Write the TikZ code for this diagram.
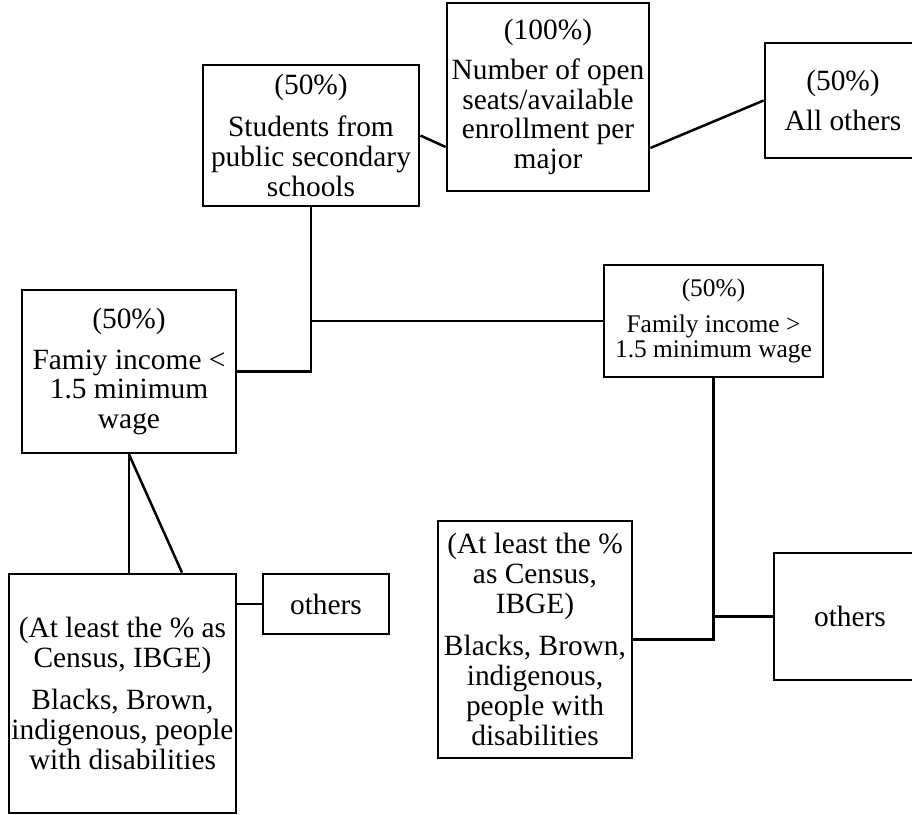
\documentclass[tikz,border=0pt]{standalone}
\usepackage{fontspec}
\setmainfont{Liberation Serif}
\usetikzlibrary{calc}

\tikzset{
  box/.style={draw, line width=2.8bp, align=center, inner sep=0pt,
    font=\fontsize{29.5}{30}\selectfont},
  link/.style={line width=2.5bp}
}

\begin{document}
\begin{tikzpicture}[x=1bp, y=-1bp]
\useasboundingbox (0,0) rectangle (912,815);
\clip (0,0) rectangle (912,815);

% top row
\node[box, minimum width=202bp, minimum height=188bp] (seats) at (548,97)
  {(100\%)\\[10bp]Number of open\\seats/available\\enrollment per\\major};
\node[box, minimum width=216bp, minimum height=141bp] (public) at (311,135.5)
  {(50\%)\\[12bp]Students from\\public secondary\\schools};
\node[box, minimum width=156bp, minimum height=115bp] (allothers) at (843,100.5)
  {(50\%)\\[10bp]All others};

% income split
\node[box, minimum width=214bp, minimum height=163bp] (lowinc) at (129,371.5)
  {(50\%)\\[11bp]Famiy income <\\1.5 minimum\\wage};
\node[box, minimum width=219bp, minimum height=112bp, font=\fontsize{25.5}{25}\selectfont] (highinc) at (713.5,321)
  {(50\%)\\[11bp]Family income >\\1.5 minimum wage};

% bottom row
\node[box, minimum width=227bp, minimum height=239bp] (census1) at (122.5,693.5)
  {(At least the \% as\\Census, IBGE)\\[12bp]Blacks, Brown,\\indigenous, people\\with disabilities};
\node[box, minimum width=126bp, minimum height=60bp] (others1) at (326,604) {others};
\node[box, minimum width=194bp, minimum height=237bp] (census2) at (535,639.5)
  {(At least the \%\\as Census,\\IBGE)\\[12bp]Blacks, Brown,\\indigenous,\\people with\\disabilities};
\node[box, minimum width=152bp, minimum height=127bp] (others2) at (850,616.5) {others};

% connectors
\draw[link] (public.east) -- ([yshift=-50bp]seats.west);
\draw[link] ([yshift=-51bp]seats.east) -- (allothers.west);
\draw[link] (public.south) |- (lowinc.east);
\draw[link] (public.south |- highinc.west) -- (highinc.west);
\draw[link] (lowinc.south) -- (lowinc.south |- census1.north);
\draw[link] (lowinc.south) -- ([xshift=59.5bp]census1.north);
\draw[link] (others1.west -| census1.east) -- (others1.west);
\draw[link] (highinc.south) |- (census2.east);
\draw[link] (highinc.south |- others2.west) -- (others2.west);
\end{tikzpicture}
\end{document}
